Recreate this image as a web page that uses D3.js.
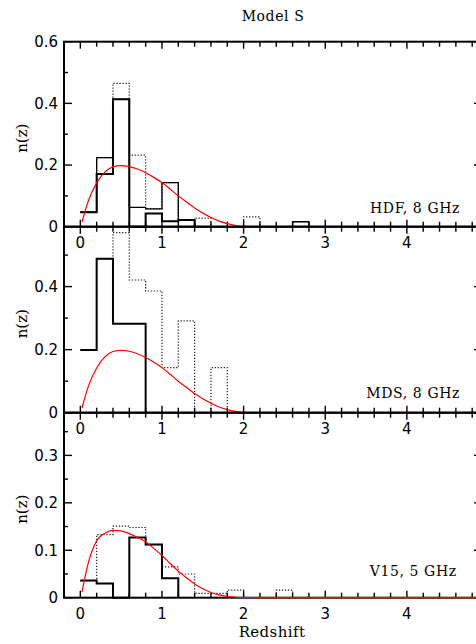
<!DOCTYPE html>
<meta charset="utf-8">
<script src="https://d3js.org/d3.v7.min.js"></script>
<style>
  body { margin: 0; background: #fff; }
</style>
<div id="screen"></div>
<script>

  // left edges of the redshift bins (bin width 0.2)
  var zBins = [0, 0.2, 0.4, 0.6, 0.8, 1.0, 1.2, 1.4, 1.6, 1.8, 2.0, 2.2, 2.4, 2.6];
  var binWidth = 0.2;

  // HDF, 8 GHz
  var hdfAll    = [0.047, 0.224, 0.465, 0.232, 0.058, 0.143, 0.022, 0.028, 0, 0, 0.032, 0, 0, 0.016];
  var hdfThin   = [0.047, 0.224, 0.413, 0.063, 0.058, 0.143, 0.022, 0, 0, 0, 0, 0, 0, 0.016];
  var hdfThick  = [0.047, 0.171, 0.413, 0, 0.043, 0.018, 0.022];

  // MDS, 8 GHz
  var mdsAll    = [0.199, 0.488, 0.571, 0.421, 0.386, 0.143, 0.291, 0, 0.143];
  var mdsThick  = [0.199, 0.488, 0.282, 0.282];

  // V15, 5 GHz
  var v15All    = [0.036, 0.133, 0.151, 0.148, 0.112, 0.065, 0.05, 0.009, 0.009, 0.016, 0, 0, 0.016];
  var v15Thick  = [0.036, 0.030, 0, 0.127, 0.112, 0.041];

  // model curves
  var zModel    = [0.02, 0.1, 0.2, 0.3, 0.4, 0.5, 0.6, 0.7, 0.8, 0.9, 1.0, 1.1, 1.2, 1.3, 1.4, 1.5, 1.6, 1.7, 1.8, 1.9, 2.0, 2.2, 5.0];
  var modelS8   = [0.015, 0.085, 0.142, 0.177, 0.194, 0.198, 0.195, 0.187, 0.175, 0.160, 0.143, 0.122, 0.100, 0.080, 0.061, 0.044, 0.030, 0.018, 0.010, 0.004, 0.001, 0, 0];
  var modelS5   = [0.012, 0.075, 0.120, 0.136, 0.142, 0.141, 0.135, 0.127, 0.118, 0.104, 0.089, 0.072, 0.056, 0.042, 0.029, 0.019, 0.011, 0.006, 0.003, 0.001, 0, 0, 0];

  var xTicks = [0, 1, 2, 3, 4];
  var hdfTicks = [0, 0.2, 0.4, 0.6];
  var mdsTicks = [0, 0.2, 0.4];
  var v15Ticks = [0, 0.1, 0.2, 0.3];

  var width = 476, height = 644;
  var serif = "'DejaVu Serif', serif";
  var sans = "'DejaVu Sans', sans-serif";

  var svg = d3.select("#screen")
      .append("svg")
      .attr("width", width)
      .attr("height", height);

  var x = d3.scaleLinear().domain([-0.2, 4.92]).range([64, 482]);

  var panels = [
    { label: "HDF, 8 GHz", top: 41.7, bottom: 226.7, yMax: 0.6, ticks: hdfTicks, step: 0.2,
      labelX: 460, labelY: 213.3,
      hists: [[hdfAll, "dot"], [hdfThin, "thin"], [hdfThick, "thick"]], model: modelS8 },
    { label: "MDS, 8 GHz", top: 226.7, bottom: 412.7, yMax: 0.59, ticks: mdsTicks, step: 0.2,
      labelX: 460, labelY: 398.3,
      hists: [[mdsAll, "dot"], [mdsThick, "thick"]], model: modelS8 },
    { label: "V15, 5 GHz", top: 412.7, bottom: 597.7, yMax: 0.39, ticks: v15Ticks, step: 0.1,
      labelX: 456.7, labelY: 575.7,
      hists: [[v15All, "dot"], [v15Thick, "thick"]], model: modelS5 }
  ];

  function histPoints(vals) {
      var pts = vals.map(function(v, i) { return [zBins[i], v]; });
      pts.push([zBins[vals.length - 1] + binWidth, 0]);
      return pts;
  }

  var xMinor = d3.range(0, 4.9, 0.2);

  panels.forEach(function(p) {
      var y = d3.scaleLinear().domain([0, p.yMax]).range([p.bottom, p.top]);
      var g = svg.append("g");

      // histograms
      var step = d3.line()
          .x(function(d) { return x(d[0]); })
          .y(function(d) { return y(d[1]); })
          .curve(d3.curveStepAfter);

      p.hists.forEach(function(h) {
          var path = g.append("path")
              .attr("d", step(histPoints(h[0])))
              .attr("fill", "none")
              .attr("stroke", "#000");
          if (h[1] == "dot") {
              path.attr("stroke-width", 1.2).attr("stroke-dasharray", "1.3,1.7").attr("stroke", "#222");
          } else if (h[1] == "thin") {
              path.attr("stroke-width", 1.3);
          } else {
              path.attr("stroke-width", 2);
          }
      });

      // frame
      g.append("rect")
          .attr("x", x(-0.2)).attr("y", p.top)
          .attr("width", x(4.92) - x(-0.2)).attr("height", p.bottom - p.top)
          .attr("fill", "none").attr("stroke", "#000").attr("stroke-width", 2);

      // x ticks, top and bottom, pointing inwards
      xMinor.forEach(function(t) {
          var major = Math.abs(t - Math.round(t)) < 1e-6;
          var len = major ? 7 : 5;
          g.append("line").attr("x1", x(t)).attr("x2", x(t))
              .attr("y1", p.bottom).attr("y2", p.bottom - len)
              .attr("stroke", "#000").attr("stroke-width", 1.4);
          g.append("line").attr("x1", x(t)).attr("x2", x(t))
              .attr("y1", p.top).attr("y2", p.top + len)
              .attr("stroke", "#000").attr("stroke-width", 1.4);
      });

      // y ticks, left and right
      var yMinor = d3.range(0, p.yMax + 1e-6, p.step / 2);
      yMinor.forEach(function(t) {
          var major = Math.abs(t / p.step - Math.round(t / p.step)) < 1e-6;
          var len = major ? 8 : 4;
          g.append("line").attr("x1", x(-0.2)).attr("x2", x(-0.2) + len)
              .attr("y1", y(t)).attr("y2", y(t))
              .attr("stroke", "#000").attr("stroke-width", 1.4);
          g.append("line").attr("x1", x(4.92)).attr("x2", x(4.92) - len)
              .attr("y1", y(t)).attr("y2", y(t))
              .attr("stroke", "#000").attr("stroke-width", 1.4);
      });

      // model curve
      var line = d3.line()
          .x(function(d) { return x(d[0]); })
          .y(function(d) { return y(d[1]); })
          .curve(d3.curveMonotoneX);
      g.append("path")
          .attr("d", line(zModel.map(function(z, i) { return [z, p.model[i]]; })))
          .attr("fill", "none")
          .attr("stroke", "#ff0000")
          .attr("stroke-width", 1.2);

      // y tick labels
      p.ticks.forEach(function(t) {
          g.append("text")
              .attr("x", 58).attr("y", y(t) + 5.3)
              .attr("text-anchor", "end")
              .style("font-family", sans).style("font-size", "15px")
              .text(t === 0 ? "0" : d3.format(".1f")(t));
      });

      // x tick labels below the panel
      xTicks.forEach(function(t) {
          g.append("text")
              .attr("x", x(t)).attr("y", p.bottom + 21)
              .attr("text-anchor", "middle")
              .style("font-family", sans).style("font-size", "15px")
              .text(t);
      });

      // y axis title
      var cy = (p.top + p.bottom) / 2 + 4;
      g.append("text")
          .attr("transform", "translate(27," + cy + ") rotate(-90)")
          .attr("text-anchor", "middle")
          .style("font-family", serif).style("font-size", "15px")
          .text("n(z)");

      // panel label
      g.append("text")
          .attr("x", p.labelX).attr("y", p.labelY)
          .attr("text-anchor", "end")
          .style("font-family", serif).style("font-size", "14px")
          .style("letter-spacing", "0.6px")
          .text(p.label);
  });

  svg.append("text")
      .attr("x", 273).attr("y", 20.7)
      .attr("text-anchor", "middle")
      .style("font-family", serif).style("font-size", "14px")
      .style("letter-spacing", "0.6px")
      .text("Model S");

  svg.append("text")
      .attr("x", 272).attr("y", 637)
      .attr("text-anchor", "middle")
      .style("font-family", serif).style("font-size", "15px")
      .style("letter-spacing", "0.4px")
      .text("Redshift");

</script>
